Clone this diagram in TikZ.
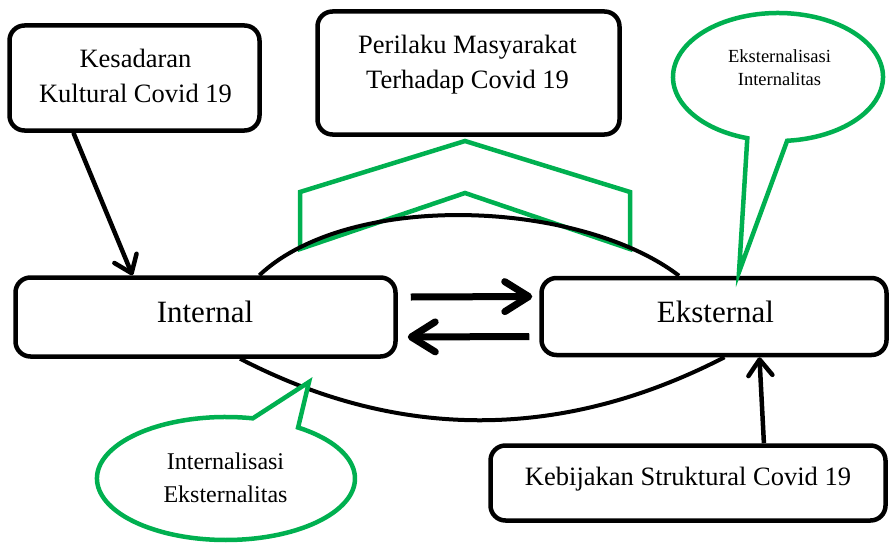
\documentclass[tikz,border=0pt]{standalone}
\usepackage{fontspec}
\setmainfont{Liberation Serif}
\usetikzlibrary{arrows.meta,calc}
\definecolor{callgreen}{RGB}{0,176,80}
\begin{document}
\begin{tikzpicture}[x=1pt,y=1pt,yscale=-1,
  box/.style={draw, line width=4.5pt, rounded corners=15pt, fill=white, inner sep=0pt},
  boxtext/.style={font=\fontsize{26.5}{35}\selectfont, align=center, inner sep=0pt},
  bigtext/.style={font=\fontsize{31}{36}\selectfont, inner sep=0pt, anchor=base},
  onetext/.style={font=\fontsize{26.5}{35}\selectfont, inner sep=0pt, anchor=base},
  greenline/.style={draw=callgreen, line width=4.5pt},
  flow/.style={line width=4pt},
  thinarrow/.style={line width=4.5pt, -{Straight Barb[length=16pt,width=24pt,round]}},
  thickarrow/.style={line width=7pt, -{Straight Barb[length=24pt,width=30pt,round]}},
]
\useasboundingbox (0,0) rectangle (890,543);

% chevron
\draw[greenline, line join=miter] (465,141) -- (630,192) -- (630,249) -- (465,193) -- (300,249) -- (300,192) -- cycle;

% boxes
\node[box, minimum width=250pt, minimum height=105pt] (kes) at (134.5,78) {};
\node[box, minimum width=302pt, minimum height=123pt] (per) at (468.5,73) {};
\node[box, minimum width=380pt, minimum height=79pt] (int) at (205.5,317) {};
\node[box, minimum width=345pt, minimum height=77pt] (ext) at (714,316.5) {};
\node[box, minimum width=395pt, minimum height=75pt] (keb) at (688,483) {};

% curves
\draw[flow] ($(int.north west)!0.64!(int.north east)$) .. controls (350,190) and (580,200) .. ($(ext.north west)!0.40!(ext.north east)$);
\draw[flow] ($(int.south west)!0.59!(int.south east)$) .. controls (399,441) and (562,441) .. ($(ext.south west)!0.53!(ext.south east)$);

% arrows
\draw[thinarrow] ($(kes.south west)!0.26!(kes.south east)$) -- ($(int.north west)!0.31!(int.north east)$);
\draw[thinarrow] ($(keb.north west)!0.69!(keb.north east)$) -- ($(ext.south west)!0.63!(ext.south east)$);
\draw[thickarrow] ($(int.east)+(13,-20)$) -- ($(ext.west)+(-7,-20)$);
\draw[thickarrow] ($(ext.west)+(-10,20)$) -- ($(int.east)+(10,20)$);

% callouts
\draw[greenline, fill=white] (747.3,138.2) arc[start angle=107, end angle=445, x radius=105pt, y radius=64pt] -- (739,272) -- cycle;
\draw[greenline, fill=white] (298.1,427.5) arc[start angle=304, end angle=642, x radius=129pt, y radius=61.5pt] -- (309,382) -- cycle;

% texts
\node[boxtext] (kest) at (135.5,75.5) {Kesadaran\\Kultural Covid 19};
\node[boxtext] (pert) at (467.5,64.4) {Perilaku Masyarakat\\Terhadap Covid 19};
\node[bigtext] (intt) at (205,322) {Internal};
\node[bigtext] (extt) at (715.5,322) {Eksternal};
\node[onetext] (kebt) at (688,485) {Kebijakan Struktural Covid 19};
\node[font=\fontsize{18.5}{23}\selectfont, align=center, inner sep=0pt] (c1t) at (779.5,67.2) {Eksternalisasi\\Internalitas};
\node[font=\fontsize{24}{33}\selectfont, align=center, inner sep=0pt] (c2t) at (225.5,477.4) {Internalisasi\\Eksternalitas};
\end{tikzpicture}
\end{document}
